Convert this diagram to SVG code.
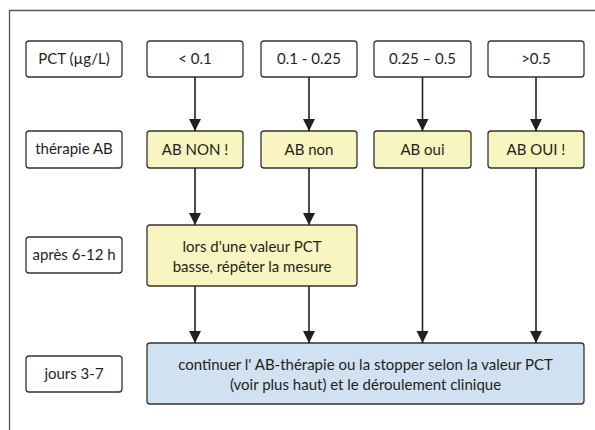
<svg xmlns="http://www.w3.org/2000/svg" width="595" height="430" viewBox="0 0 595 430">
<style>
.b{fill:#fff;stroke:#333;stroke-width:1.3}
.y{fill:#f8f5c0;stroke:#333;stroke-width:1.3}
.c{fill:#d0e1f1;stroke:#333;stroke-width:1.3}
text{font-family:Lato,"Noto Sans",sans-serif;font-size:15px;fill:#231f20;text-anchor:middle}
.a{stroke:#231f20;stroke-width:1.6;fill:none;marker-end:url(#ah)}
</style>
<defs>
<marker id="ah" viewBox="0 0 12 12" refX="12" refY="6" markerWidth="12" markerHeight="13" markerUnits="userSpaceOnUse" orient="auto">
<path d="M0,0 L12,6 L0,12 Z" fill="#231f20"/>
</marker>
</defs>
<rect width="595" height="430" fill="#fff"/>
<path d="M9.5,430 V10.5 H595" fill="none" stroke="#555" stroke-width="1.3"/>
<g id="lab1"><rect class="b" x="26" y="41" width="96" height="36" rx="3"/><text x="74" y="64">PCT (µg/L)</text></g>
<g id="lab2"><rect class="b" x="26" y="131" width="96" height="37" rx="3"/><text x="74" y="154">thérapie AB</text></g>
<g id="lab3"><rect class="b" x="26" y="237" width="96" height="36" rx="3"/><text x="74" y="260">après 6-12 h</text></g>
<g id="lab4"><rect class="b" x="26" y="356" width="96" height="36" rx="3"/><text x="74" y="379">jours 3-7</text></g>
<g id="p1"><rect class="b" x="147" y="41" width="96" height="36" rx="3"/><text x="195" y="64">&lt; 0.1</text></g>
<g id="p2"><rect class="b" x="261" y="41" width="96" height="36" rx="3"/><text x="309" y="64">0.1 - 0.25</text></g>
<g id="p3"><rect class="b" x="374" y="41" width="97" height="36" rx="3"/><text x="422.5" y="64">0.25 – 0.5</text></g>
<g id="p4"><rect class="b" x="488" y="41" width="96" height="36" rx="3"/><text x="536" y="64">&gt;0.5</text></g>
<g id="t1"><rect class="y" x="147" y="131" width="96" height="37" rx="3"/><text x="195" y="155">AB NON !</text></g>
<g id="t2"><rect class="y" x="261" y="131" width="96" height="37" rx="3"/><text x="309" y="155">AB non</text></g>
<g id="t3"><rect class="y" x="374" y="131" width="97" height="37" rx="3"/><text x="422.5" y="155">AB oui</text></g>
<g id="t4"><rect class="y" x="488" y="131" width="96" height="37" rx="3"/><text x="536" y="155">AB OUI !</text></g>
<g id="repeat"><rect class="y" x="147" y="225" width="210" height="61" rx="3"/><text x="252" y="252">lors d'une valeur PCT</text><text x="252" y="272">basse, répêter la mesure</text></g>
<g id="cont"><rect class="c" x="147" y="343" width="437" height="61" rx="3"/><text x="365.5" y="370">continuer l' AB-thérapie ou la stopper selon la valeur PCT</text><text x="365.5" y="390">(voir plus haut) et le déroulement clinique</text></g>
<g id="connectors">
<line class="a" x1="195" y1="77" x2="195" y2="131"/>
<line class="a" x1="309" y1="77" x2="309" y2="131"/>
<line class="a" x1="422.5" y1="77" x2="422.5" y2="131"/>
<line class="a" x1="536" y1="77" x2="536" y2="131"/>
<line class="a" x1="195" y1="168" x2="195" y2="225"/>
<line class="a" x1="309" y1="168" x2="309" y2="225"/>
<line class="a" x1="195" y1="286" x2="195" y2="343"/>
<line class="a" x1="309" y1="286" x2="309" y2="343"/>
<line class="a" x1="422.5" y1="168" x2="422.5" y2="343"/>
<line class="a" x1="536" y1="168" x2="536" y2="343"/>
</g>
</svg>
